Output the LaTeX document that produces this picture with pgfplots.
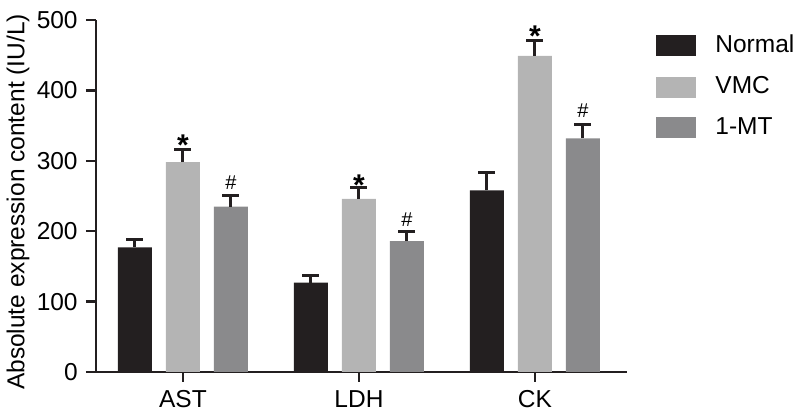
\documentclass[border=0pt]{standalone}
\usepackage{pgfplots}
\pgfplotsset{compat=1.18}
\usepackage{fontspec}
\setmainfont{Liberation Sans}
\definecolor{cNormal}{HTML}{231F20}
\definecolor{cVMC}{HTML}{B4B4B4}
\definecolor{cMT}{HTML}{8A8A8C}
\begin{document}
\begin{tikzpicture}[x=1pt,y=1pt]
\useasboundingbox (0,0) rectangle (800,417);
\fontsize{24.5}{28}\selectfont
\begin{axis}[
  at={(96pt,45pt)}, anchor=south west,
  scale only axis, width=531pt, height=352pt,
  ybar=14pt, bar width=34pt,
  xmin=-0.494, xmax=2.523, ymin=0, ymax=500,
  xtick={0,1,2}, xticklabels={AST,LDH,CK},
  ytick={0,100,200,300,400,500},
  axis x line*=bottom, axis y line*=left,
  axis line style={line width=2.4pt, color=cNormal, -},
  tick style={line width=2.4pt, color=cNormal},
  tick align=outside, major tick length=10pt,
  /pgf/number format/assume math mode=true,
  ticklabel style={font=\fontsize{24.5}{28}\selectfont},
  ylabel={Absolute expression content (IU/L)},
  ylabel style={at={(axis description cs:-0.147,0.483)}, anchor=center, rotate=0, font=\fontsize{24.5}{28}\selectfont},
  legend style={at={(1.055,0.963)}, anchor=north west, draw=none, fill=none, inner sep=0pt,
    row sep=16pt, font=\fontsize{24.5}{28}\selectfont, cells={anchor=west},
    /tikz/every odd column/.append style={column sep=17pt}},
  legend image code/.code={\fill[#1] (0pt,-10.5pt) rectangle (40pt,10.5pt);},
  error bars/error bar style={line width=3pt, draw=cNormal, solid},
  error bars/error mark options={rotate=90, line width=3pt, draw=cNormal, solid, mark size=8.5pt},
]
\addplot[fill=cNormal, draw=none, error bars/.cd, y dir=plus, y explicit]
  coordinates {(0,177) +- (0,11) (1,127) +- (0,10) (2,258) +- (0,26)};
\addplot[fill=cVMC, draw=none, error bars/.cd, y dir=plus, y explicit]
  coordinates {(0,298) +- (0,18) (1,246) +- (0,16) (2,449) +- (0,22)};
\addplot[fill=cMT, draw=none, error bars/.cd, y dir=plus, y explicit]
  coordinates {(0,235) +- (0,15) (1,186) +- (0,13) (2,332) +- (0,20)};
\legend{Normal,VMC,1-MT}
\node[anchor=base, inner sep=0pt, font=\fontsize{30}{30}\selectfont\bfseries] at (axis cs:0,307.5) {*};
\node[anchor=base, inner sep=0pt, font=\fontsize{30}{30}\selectfont\bfseries] at (axis cs:1,250.5) {*};
\node[anchor=base, inner sep=0pt, font=\fontsize{30}{30}\selectfont\bfseries] at (axis cs:2,463) {*};
\node[anchor=base, inner sep=0pt, font=\fontsize{20}{22}\selectfont] at (axis cs:0.2727,259) {\#};
\node[anchor=base, inner sep=0pt, font=\fontsize{20}{22}\selectfont] at (axis cs:1.2727,206) {\#};
\node[anchor=base, inner sep=0pt, font=\fontsize{20}{22}\selectfont] at (axis cs:2.2727,361.5) {\#};
\end{axis}
\end{tikzpicture}
\end{document}
